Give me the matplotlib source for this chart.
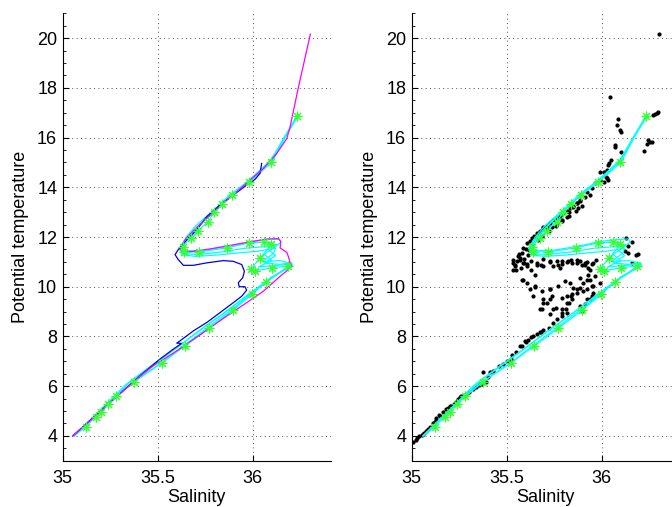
import numpy as np
import matplotlib
matplotlib.use('Agg')
import matplotlib.pyplot as plt
from matplotlib.ticker import MultipleLocator

plt.rcParams['font.family'] = ['Liberation Sans', 'DejaVu Sans']

# Profile data: salinity (S) and potential temperature (T) #
blue_S = [36.047, 36.038, 36.012, 35.968, 35.898, 35.828, 35.758, 35.705, 35.653, 35.608,
          35.591, 35.608, 35.635, 35.687, 35.758, 35.845, 35.898, 35.942, 35.956, 35.947,
          35.924, 35.929, 35.959, 35.968, 35.942, 35.898, 35.828, 35.758, 35.687, 35.617,
          35.600, 35.626, 35.582, 35.512, 35.407, 35.054]
blue_T = [14.96, 14.56, 14.32, 14.09, 13.69, 13.29, 12.82, 12.29, 11.89, 11.49,
          11.29, 11.09, 10.86, 10.86, 10.96, 11.05, 11.02, 10.89, 10.62, 10.36,
          10.16, 10.00, 10.00, 9.86, 9.62, 9.36, 8.96, 8.56, 8.22, 7.82,
          7.73, 7.72, 7.49, 7.09, 6.42, 4.01]

magenta_S = [36.303, 36.240, 36.196, 36.179, 36.126, 36.056, 35.986, 35.916, 35.854, 35.780,
             35.700, 35.650, 35.635, 35.617, 35.644, 35.775, 35.968, 36.074, 36.135, 36.147,
             36.144, 36.179, 36.187, 36.196, 36.205, 36.187, 36.144, 36.056, 35.968, 35.863,
             35.740, 35.600, 35.477, 35.389, 35.054]
magenta_T = [20.16, 18.02, 16.42, 15.96, 15.36, 14.76, 14.29, 13.82, 13.42, 12.90,
             12.35, 11.95, 11.76, 11.49, 11.38, 11.52, 11.78, 11.92, 11.93, 11.82,
             11.56, 11.38, 11.22, 10.98, 10.82, 10.69, 10.42, 9.82, 9.36, 8.82,
             8.16, 7.42, 6.82, 6.29, 4.00]

cyan1_S = [36.24, 36.17, 36.10, 35.98, 35.89, 35.84, 35.80, 35.76, 35.71, 35.67, 35.63, 35.64,
           35.72, 35.86, 35.98, 36.06, 36.10, 36.04, 35.99, 36.01, 36.10, 36.19, 36.07, 36.00,
           35.90, 35.77, 35.64, 35.52, 35.37, 35.28, 35.24, 35.20, 35.17, 35.12, 35.06]
cyan1_T = [16.90, 16.00, 15.00, 14.20, 13.68, 13.32, 13.00, 12.60, 12.24, 11.96, 11.60, 11.40,
           11.40, 11.56, 11.76, 11.80, 11.72, 11.16, 10.72, 10.64, 10.76, 10.84, 10.20, 9.72,
           9.08, 8.32, 7.60, 6.92, 6.16, 5.60, 5.28, 4.96, 4.76, 4.36, 4.00]

cyan2_S = [36.23, 36.16, 36.09, 35.97, 35.88, 35.79, 35.70, 35.65, 35.615, 35.63, 35.70, 35.82,
           35.95, 36.02, 36.12, 36.11, 36.05, 36.14, 36.20, 36.21, 36.17, 36.08, 35.99, 35.88,
           35.75, 35.62, 35.50, 35.36, 35.22, 35.06]
cyan2_T = [16.85, 15.90, 15.05, 14.22, 13.70, 13.05, 12.45, 12.00, 11.55, 11.28, 11.22, 11.28,
           11.38, 11.42, 11.55, 11.35, 11.00, 11.05, 10.95, 10.85, 10.70, 10.25, 9.75, 9.12,
           8.40, 7.66, 6.98, 6.20, 5.20, 4.00]

cyan3_S = [36.24, 36.16, 36.10, 35.99, 35.90, 35.80, 35.72, 35.66, 35.63, 35.645, 35.73, 35.87,
           35.99, 36.08, 36.14, 36.15, 36.09, 36.12, 36.06, 36.14, 36.205, 36.20, 36.10, 36.02,
           35.91, 35.78, 35.65, 35.53, 35.39, 35.25, 35.06]
cyan3_T = [16.90, 15.95, 15.10, 14.30, 13.75, 13.10, 12.50, 12.00, 11.65, 11.45, 11.45, 11.62,
           11.82, 11.90, 11.92, 11.80, 11.45, 11.25, 10.95, 10.90, 10.96, 10.80, 10.40, 9.90,
           9.20, 8.45, 7.70, 7.00, 6.25, 5.40, 4.00]

cyan4_S = [36.235, 36.17, 36.11, 35.985, 35.885, 35.79, 35.71, 35.655, 35.62, 35.635, 35.71, 35.84,
           35.96, 36.08, 36.13, 36.06, 36.10, 36.03, 36.12, 36.20, 36.18, 36.05, 35.96, 35.86,
           35.73, 35.60, 35.47, 35.33, 35.20, 35.06]
cyan4_T = [16.88, 16.05, 15.15, 14.25, 13.66, 13.00, 12.40, 11.95, 11.50, 11.32, 11.30, 11.40,
           11.55, 11.62, 11.68, 11.30, 11.05, 10.80, 10.85, 10.92, 10.75, 10.10, 9.60, 9.00,
           8.30, 7.55, 6.85, 6.05, 5.05, 4.00]

# Mean profile at standard levels #
mean_S = [36.232, 36.095, 35.979, 35.889, 35.837, 35.795, 35.763, 35.711, 35.674, 35.632, 35.637,
          35.716, 35.863, 35.979, 36.058, 36.095, 36.037, 35.989, 36.011, 36.100, 36.184, 36.068,
          35.995, 35.895, 35.768, 35.642, 35.521, 35.374, 35.279, 35.237, 35.200, 35.174, 35.121]
mean_T = [16.88, 15.00, 14.20, 13.68, 13.32, 13.00, 12.60, 12.24, 11.96, 11.60, 11.40,
          11.40, 11.56, 11.76, 11.80, 11.72, 11.16, 10.72, 10.64, 10.76, 10.84, 10.20,
          9.72, 9.08, 8.32, 7.60, 6.92, 6.16, 5.60, 5.28, 4.96, 4.76, 4.36]

# Bottle / CTD observations #
obs_S = [
    35.008, 35.02, 35.03, 35.04, 35.054, 35.06, 35.066, 35.075, 35.084, 35.095, 35.11, 35.12,
    35.128, 35.13, 35.145, 35.15, 35.163, 35.18, 35.19, 35.2, 35.207, 35.22, 35.233, 35.245,
    35.254, 35.26, 35.27, 35.286, 35.3, 35.32, 35.34, 35.356, 35.37, 35.39,
    35.377, 35.40, 35.41, 35.43, 35.46, 35.48, 35.5, 35.51, 35.52, 35.53, 35.55, 35.57,
    35.58, 35.596, 35.6, 35.61, 35.63, 35.64, 35.66, 35.675, 35.68, 35.69, 35.72,
    35.745, 35.763, 35.728, 35.71, 35.745, 35.79, 35.816, 35.842, 35.868, 35.886, 35.903,
    35.92, 35.93, 35.94, 35.956, 35.91, 35.965, 35.956, 35.947, 35.92, 35.886, 35.816,
    35.79, 35.886, 35.903,
    35.535, 35.55, 35.57, 35.59, 35.605, 35.58, 35.605, 35.63, 35.65, 35.66, 35.68, 35.69,
    35.73, 35.745, 35.77, 35.79, 35.82, 35.84, 35.87, 35.885, 35.91, 35.93, 35.94, 35.95,
    35.92, 35.955, 35.94, 35.91, 35.895, 35.83, 35.79, 35.81, 35.76, 35.73, 35.69, 35.675,
    35.64, 35.62, 35.65, 35.73, 35.77, 35.84, 35.87, 35.79, 35.97, 35.99, 35.99,
    36.14, 36.12, 36.14, 36.18, 36.16, 36.13, 36.16, 36.19,
    35.535, 35.544, 35.535, 35.587, 35.65, 35.684, 35.69, 35.684, 35.737, 35.728, 35.816,
    35.842, 35.85, 35.833, 35.807, 35.78,
    35.57, 35.605, 35.63, 35.658, 35.693, 35.728, 35.763, 35.79, 35.816, 35.842, 35.868,
    35.895, 35.92, 35.947,
    35.544, 35.553, 35.561, 35.579, 35.587, 35.605, 35.632, 35.658, 35.693, 35.728, 35.763,
    35.798, 35.833, 35.868,
    35.575, 35.583, 35.59, 35.61, 35.617, 35.635, 35.662, 35.688, 35.723, 35.758, 35.793,
    35.828, 35.863, 35.898,
    35.565, 35.6, 35.62, 35.645, 35.675, 35.71, 35.745, 35.78, 35.815, 35.85, 35.885,
    35.69, 35.71, 35.737, 35.763, 35.79, 35.816, 35.83, 35.877, 35.85, 35.87, 35.886, 35.91,
    35.94, 35.92, 35.947, 35.965, 35.99, 36.01, 36.035, 36.03, 36.02, 35.99, 36.01, 36.026,
    36.035, 36.04, 36.05, 36.07, 36.10, 36.07, 36.079, 36.087, 36.096, 36.10, 36.044,
    36.28, 36.29, 36.27, 36.295, 36.245, 36.254, 36.263, 36.237, 36.22, 36.30,
]
obs_T = [
    3.76, 3.85, 3.92, 3.98, 4.05, 4.09, 4.12, 4.20, 4.29, 4.36, 4.52, 4.56,
    4.62, 4.72, 4.85, 4.80, 4.96, 5.09, 5.12, 5.20, 5.22, 5.30, 5.38, 5.47,
    5.56, 5.60, 5.62, 5.69, 5.78, 5.89, 5.98, 6.05, 6.10, 6.18,
    6.56, 6.35, 6.55, 6.60, 6.82, 6.90, 7.02, 7.02, 7.10, 7.25, 7.36, 7.62,
    7.62, 7.82, 7.76, 7.85, 7.96, 8.00, 8.09, 8.16, 8.16, 8.25, 8.35,
    8.56, 8.69, 8.89, 9.36, 9.09, 9.09, 9.36, 9.49, 9.76, 9.96, 10.16,
    10.29, 10.49, 10.69, 10.96, 10.89, 10.42, 10.02, 9.62, 9.49, 9.22, 8.96,
    8.82, 10.36, 9.82,
    10.96, 10.69, 11.16, 10.96, 10.82, 10.29, 10.16, 10.69, 10.49, 10.96, 10.89, 10.82,
    11.02, 10.82, 10.89, 11.02, 11.02, 11.09, 10.96, 11.02, 10.96, 10.76, 10.29, 10.02,
    9.89, 9.76, 9.49, 9.29, 9.02, 9.36, 9.56, 9.09, 9.16, 9.49, 9.36, 9.09,
    9.62, 9.89, 10.02, 9.89, 10.02, 9.62, 9.89, 8.96, 11.09, 10.16, 9.69,
    11.62, 11.42, 11.36, 11.29, 10.96, 11.96, 11.78, 11.32,
    11.09, 10.89, 10.69, 10.29, 10.00, 9.82, 9.49, 9.09, 9.62, 9.89, 9.62,
    9.69, 9.96, 10.16, 10.22, 10.76,
    11.08, 10.93, 11.02, 10.88, 11.10, 10.98, 11.04, 10.90, 11.00, 10.95, 11.06,
    10.86, 10.98, 10.92,
    10.82, 11.02, 11.22, 11.36, 11.56, 11.76, 11.96, 12.16, 12.36, 12.56, 12.76,
    12.96, 13.16, 13.36,
    10.75, 10.95, 11.12, 11.27, 11.46, 11.66, 11.86, 12.06, 12.26, 12.46, 12.66,
    12.86, 13.06, 13.26,
    11.30, 11.50, 11.85, 12.05, 12.25, 12.45, 12.68, 12.85, 13.05, 13.25, 13.45,
    12.42, 12.36, 12.42, 12.56, 12.69, 12.82, 13.02, 13.16, 13.22, 13.36, 13.49, 13.62,
    13.69, 13.82, 13.96, 14.16, 14.29, 14.22, 14.29, 14.36, 14.42, 14.62, 14.62, 14.69,
    14.89, 14.96, 15.09, 15.62, 15.42, 15.69, 16.49, 16.76, 16.29, 16.22, 17.65,
    16.96, 17.00, 16.89, 17.02, 15.89, 15.82, 15.82, 15.76, 15.46, 20.16,
]

cyan_profiles = [(cyan1_S, cyan1_T), (cyan2_S, cyan2_T), (cyan3_S, cyan3_T), (cyan4_S, cyan4_T)]
star = (8, 2, 0)   # eight-armed asterisk


def style_axes(ax):
    ax.set_xlim(35, 36.41)
    ax.set_ylim(3, 21)
    ax.set_xticks([35, 35.5, 36])
    ax.set_xticklabels(['35', '35.5', '36'])
    ax.set_yticks(np.arange(4, 21, 2))
    ax.yaxis.set_minor_locator(MultipleLocator(0.5))
    ax.spines['top'].set_visible(False)
    ax.spines['right'].set_visible(False)
    for s in ['left', 'bottom']:
        ax.spines[s].set_linewidth(0.8)
    ax.tick_params(which='major', direction='in', length=4, labelsize=13)
    ax.tick_params(which='minor', direction='in', length=2)
    ax.tick_params(axis='x', pad=7)
    ax.tick_params(axis='y', pad=4)
    ax.grid(True, which='major', linestyle=(0, (1, 3.5)), color='0.3', linewidth=0.7)
    ax.set_xlabel('Salinity', fontsize=13, labelpad=1)
    ax.set_ylabel('Potential temperature', fontsize=13, labelpad=6)


fig = plt.figure(figsize=(6.72, 5.07), dpi=100)
ax1 = fig.add_axes([62.7/672, 46.3/507, 268/672, 447.4/507])
ax2 = fig.add_axes([411.7/672, 46.3/507, 268/672, 447.4/507])

# Left: individual profiles #
for S, T in cyan_profiles:
    ax1.plot(S, T, color='cyan', linewidth=0.9)
ax1.plot(blue_S, blue_T, color=(0, 0, 0.9), linewidth=0.9)
ax1.plot(magenta_S, magenta_T, color='magenta', linewidth=0.9)
ax1.plot(mean_S, mean_T, linestyle='none', marker=star, color=(0.2, 1, 0.2),
         markersize=7, markeredgewidth=0.8)

# Right: observations with the same profiles #
ax2.plot(obs_S, obs_T, 'k.', markersize=4)
for S, T in cyan_profiles:
    ax2.plot(S, T, color='cyan', linewidth=0.9)
ax2.plot(mean_S, mean_T, linestyle='none', marker=star, color=(0.2, 1, 0.2),
         markersize=7, markeredgewidth=0.8)

style_axes(ax1)
style_axes(ax2)

fig.savefig('out.png', dpi=100)
